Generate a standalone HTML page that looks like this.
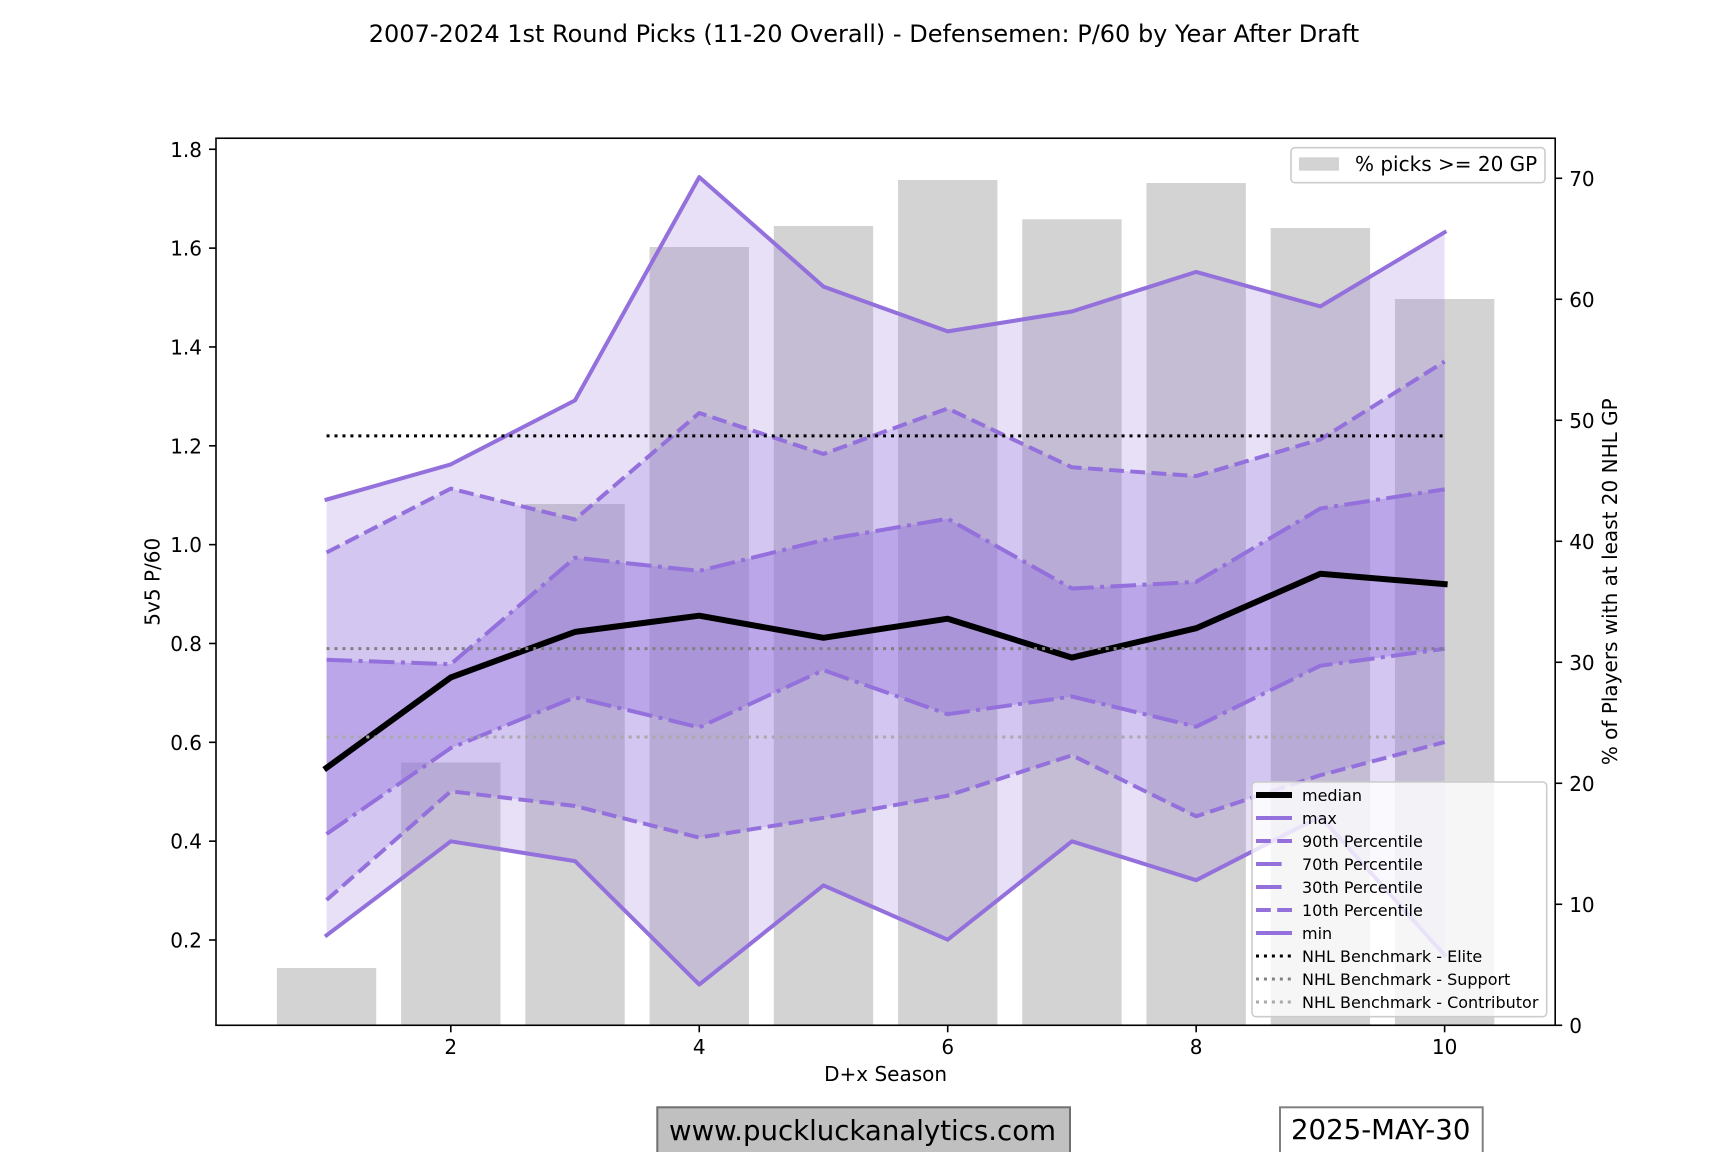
<!DOCTYPE html>
<html>
<head>
<meta charset="utf-8">
<style>
  html, body { margin: 0; padding: 0; background: #ffffff; }
  svg { display: block; }
  text { font-family: "DejaVu Sans", "Liberation Sans", sans-serif; fill: #000; }
</style>
</head>
<body>
<svg width="1728" height="1152" viewBox="0 0 1728 1152" xmlns="http://www.w3.org/2000/svg">
  <rect x="0" y="0" width="1728" height="1152" fill="#ffffff"/>

  <!-- Title -->
  <text x="864" y="42" font-size="24" text-anchor="middle">2007-2024 1st Round Picks (11-20 Overall) - Defensemen: P/60 by Year After Draft</text>

  <!-- Bars (secondary axis) -->
  <g fill="#d3d3d3">
    <rect x="276.87" y="968" width="99.38" height="57.28"/>
    <rect x="401.10" y="762.5" width="99.38" height="262.78"/>
    <rect x="525.33" y="504" width="99.38" height="521.28"/>
    <rect x="649.56" y="247" width="99.38" height="778.28"/>
    <rect x="773.79" y="226" width="99.38" height="799.28"/>
    <rect x="898.02" y="180" width="99.38" height="845.28"/>
    <rect x="1022.25" y="219.3" width="99.38" height="805.98"/>
    <rect x="1146.48" y="183" width="99.38" height="842.28"/>
    <rect x="1270.71" y="228" width="99.38" height="797.28"/>
    <rect x="1394.94" y="299" width="99.38" height="726.28"/>
  </g>

  <!-- Fill bands -->
  <polygon fill="#9370DB" fill-opacity="0.22" points="326.56,499.6 450.79,464.4 575.02,400.4 699.25,177.1 823.48,286.6 947.71,331.4 1071.94,311.5 1196.17,271.9 1320.40,306.4 1444.63,232.2 1444.63,955.2 1320.40,816.5 1196.17,880.2 1071.94,841.3 947.71,939.7 823.48,885.4 699.25,984.6 575.02,861.1 450.79,841.3 326.56,935.3"/>
  <polygon fill="#9370DB" fill-opacity="0.23" points="326.56,552.5 450.79,488.6 575.02,519.5 699.25,413.0 823.48,454.0 947.71,408.5 1071.94,467.3 1196.17,476.1 1320.40,439.4 1444.63,361.5 1444.63,742.1 1320.40,775.2 1196.17,816.3 1071.94,755.3 947.71,795.7 823.48,817.8 699.25,837.6 575.02,806.0 450.79,791.3 326.56,900.0"/>
  <polygon fill="#9370DB" fill-opacity="0.37" points="326.56,659.8 450.79,664.2 575.02,557.7 699.25,570.9 823.48,540.0 947.71,518.7 1071.94,588.5 1196.17,581.9 1320.40,508.5 1444.63,489.3 1444.63,648.8 1320.40,665.7 1196.17,726.7 1071.94,696.5 947.71,714.2 823.48,670.1 699.25,727.4 575.02,697.3 450.79,748.0 326.56,834.0"/>

  <!-- Median -->
  <polyline fill="none" stroke="#000000" stroke-width="6" stroke-linejoin="round" stroke-linecap="square" points="326.56,767.8 450.79,677.4 575.02,631.9 699.25,615.7 823.48,637.8 947.71,618.7 1071.94,657.6 1196.17,628.2 1320.40,573.8 1444.63,584.1"/>

  <!-- Percentile lines -->
  <g fill="none" stroke="#9370DB" stroke-width="4" stroke-linejoin="round">
    <polyline stroke-linecap="square" points="326.56,499.6 450.79,464.4 575.02,400.4 699.25,177.1 823.48,286.6 947.71,331.4 1071.94,311.5 1196.17,271.9 1320.40,306.4 1444.63,232.2"/>
    <polyline stroke-dasharray="14.8 6.4" stroke-linecap="butt" points="326.56,552.5 450.79,488.6 575.02,519.5 699.25,413.0 823.48,454.0 947.71,408.5 1071.94,467.3 1196.17,476.1 1320.40,439.4 1444.63,361.5"/>
    <polyline stroke-dasharray="25.6 6.4 4 6.4" stroke-linecap="butt" points="326.56,659.8 450.79,664.2 575.02,557.7 699.25,570.9 823.48,540.0 947.71,518.7 1071.94,588.5 1196.17,581.9 1320.40,508.5 1444.63,489.3"/>
    <polyline stroke-dasharray="25.6 6.4 4 6.4" stroke-linecap="butt" points="326.56,834.0 450.79,748.0 575.02,697.3 699.25,727.4 823.48,670.1 947.71,714.2 1071.94,696.5 1196.17,726.7 1320.40,665.7 1444.63,648.8"/>
    <polyline stroke-dasharray="14.8 6.4" stroke-linecap="butt" points="326.56,900.0 450.79,791.3 575.02,806.0 699.25,837.6 823.48,817.8 947.71,795.7 1071.94,755.3 1196.17,816.3 1320.40,775.2 1444.63,742.1"/>
    <polyline stroke-linecap="square" points="326.56,935.3 450.79,841.3 575.02,861.1 699.25,984.6 823.48,885.4 947.71,939.7 1071.94,841.3 1196.17,880.2 1320.40,816.5 1444.63,955.2"/>
  </g>

  <!-- Benchmarks -->
  <g fill="none" stroke-width="3" stroke-dasharray="3 4.95" stroke-linecap="butt">
    <line x1="326.56" y1="435.9" x2="1444.63" y2="435.9" stroke="#000000"/>
    <line x1="326.56" y1="648.6" x2="1444.63" y2="648.6" stroke="#808080"/>
    <line x1="326.56" y1="737.0" x2="1444.63" y2="737.0" stroke="#a9a9a9"/>
  </g>

  <!-- Axes frame -->
  <rect x="216" y="138.24" width="1339.2" height="887.04" fill="none" stroke="#000" stroke-width="1.6"/>

  <!-- Left ticks -->
  <g stroke="#000" stroke-width="1.6">
    <line x1="209" y1="940.0" x2="216" y2="940.0"/>
    <line x1="209" y1="841.16" x2="216" y2="841.16"/>
    <line x1="209" y1="742.32" x2="216" y2="742.32"/>
    <line x1="209" y1="643.48" x2="216" y2="643.48"/>
    <line x1="209" y1="544.64" x2="216" y2="544.64"/>
    <line x1="209" y1="445.8" x2="216" y2="445.8"/>
    <line x1="209" y1="346.96" x2="216" y2="346.96"/>
    <line x1="209" y1="248.12" x2="216" y2="248.12"/>
    <line x1="209" y1="149.28" x2="216" y2="149.28"/>
  </g>
  <g font-size="20" text-anchor="end">
    <text x="202" y="947.5">0.2</text>
    <text x="202" y="848.7">0.4</text>
    <text x="202" y="749.8">0.6</text>
    <text x="202" y="651.0">0.8</text>
    <text x="202" y="552.1">1.0</text>
    <text x="202" y="453.3">1.2</text>
    <text x="202" y="354.5">1.4</text>
    <text x="202" y="255.6">1.6</text>
    <text x="202" y="156.8">1.8</text>
  </g>

  <!-- Right ticks -->
  <g stroke="#000" stroke-width="1.6">
    <line x1="1555.2" y1="1025.28" x2="1562.2" y2="1025.28"/>
    <line x1="1555.2" y1="904.28" x2="1562.2" y2="904.28"/>
    <line x1="1555.2" y1="783.28" x2="1562.2" y2="783.28"/>
    <line x1="1555.2" y1="662.28" x2="1562.2" y2="662.28"/>
    <line x1="1555.2" y1="541.28" x2="1562.2" y2="541.28"/>
    <line x1="1555.2" y1="420.28" x2="1562.2" y2="420.28"/>
    <line x1="1555.2" y1="299.28" x2="1562.2" y2="299.28"/>
    <line x1="1555.2" y1="178.28" x2="1562.2" y2="178.28"/>
  </g>
  <g font-size="20" text-anchor="start">
    <text x="1569.2" y="1032.8">0</text>
    <text x="1569.2" y="911.8">10</text>
    <text x="1569.2" y="790.8">20</text>
    <text x="1569.2" y="669.8">30</text>
    <text x="1569.2" y="548.8">40</text>
    <text x="1569.2" y="427.8">50</text>
    <text x="1569.2" y="306.8">60</text>
    <text x="1569.2" y="185.8">70</text>
  </g>

  <!-- Bottom ticks -->
  <g stroke="#000" stroke-width="1.6">
    <line x1="450.79" y1="1025.28" x2="450.79" y2="1032.28"/>
    <line x1="699.25" y1="1025.28" x2="699.25" y2="1032.28"/>
    <line x1="947.71" y1="1025.28" x2="947.71" y2="1032.28"/>
    <line x1="1196.17" y1="1025.28" x2="1196.17" y2="1032.28"/>
    <line x1="1444.63" y1="1025.28" x2="1444.63" y2="1032.28"/>
  </g>
  <g font-size="20" text-anchor="middle">
    <text x="450.79" y="1054">2</text>
    <text x="699.25" y="1054">4</text>
    <text x="947.71" y="1054">6</text>
    <text x="1196.17" y="1054">8</text>
    <text x="1444.63" y="1054">10</text>
  </g>

  <!-- Axis labels -->
  <text x="885.6" y="1081" font-size="20" text-anchor="middle">D+x Season</text>
  <text x="0" y="0" font-size="20" text-anchor="middle" transform="translate(159.5,581.76) rotate(-90)">5v5 P/60</text>
  <text x="0" y="0" font-size="20" text-anchor="middle" transform="translate(1617,581.76) rotate(-90)">% of Players with at least 20 NHL GP</text>

  <!-- Upper-right legend -->
  <rect x="1291" y="147.7" width="254" height="35" rx="4" ry="4" fill="#ffffff" fill-opacity="0.8" stroke="#cccccc" stroke-width="1.6"/>
  <rect x="1299" y="157.3" width="40" height="13.4" fill="#d3d3d3"/>
  <text x="1355" y="171" font-size="20">% picks &gt;= 20 GP</text>

  <!-- Lower-right legend -->
  <rect x="1252" y="782" width="294.7" height="234.7" rx="4" ry="4" fill="#ffffff" fill-opacity="0.8" stroke="#cccccc" stroke-width="1.6"/>
  <g fill="none">
    <line x1="1256" y1="795" x2="1292" y2="795" stroke="#000" stroke-width="6"/>
    <line x1="1256" y1="818" x2="1292" y2="818" stroke="#9370DB" stroke-width="4"/>
    <line x1="1256" y1="841" x2="1292" y2="841" stroke="#9370DB" stroke-width="4" stroke-dasharray="14.8 6.4"/>
    <line x1="1256" y1="864" x2="1292" y2="864" stroke="#9370DB" stroke-width="4" stroke-dasharray="25.6 20"/>
    <line x1="1256" y1="887" x2="1292" y2="887" stroke="#9370DB" stroke-width="4" stroke-dasharray="25.6 20"/>
    <line x1="1256" y1="910" x2="1292" y2="910" stroke="#9370DB" stroke-width="4" stroke-dasharray="14.8 6.4"/>
    <line x1="1256" y1="933" x2="1292" y2="933" stroke="#9370DB" stroke-width="4"/>
    <line x1="1256" y1="956" x2="1292" y2="956" stroke="#000000" stroke-width="3" stroke-dasharray="3 4.95"/>
    <line x1="1256" y1="979" x2="1292" y2="979" stroke="#808080" stroke-width="3" stroke-dasharray="3 4.95"/>
    <line x1="1256" y1="1002" x2="1292" y2="1002" stroke="#a9a9a9" stroke-width="3" stroke-dasharray="3 4.95"/>
  </g>
  <g font-size="16">
    <text x="1302" y="801">median</text>
    <text x="1302" y="824">max</text>
    <text x="1302" y="847">90th Percentile</text>
    <text x="1302" y="870">70th Percentile</text>
    <text x="1302" y="893">30th Percentile</text>
    <text x="1302" y="916">10th Percentile</text>
    <text x="1302" y="939">min</text>
    <text x="1302" y="962">NHL Benchmark - Elite</text>
    <text x="1302" y="985">NHL Benchmark - Support</text>
    <text x="1302" y="1008">NHL Benchmark - Contributor</text>
  </g>

  <!-- Footer boxes -->
  <rect x="657.3" y="1107.3" width="412.7" height="70" fill="#c0c0c0" stroke="#707070" stroke-width="2"/>
  <text x="669" y="1140" font-size="27.6">www.puckluckanalytics.com</text>
  <rect x="1280" y="1107.3" width="202.7" height="70" fill="#ffffff" stroke="#808080" stroke-width="2"/>
  <text x="1291" y="1139" font-size="27.6">2025-MAY-30</text>
</svg>
</body>
</html>
